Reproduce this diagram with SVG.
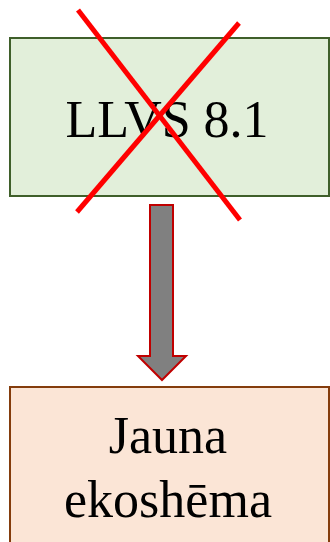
<svg xmlns="http://www.w3.org/2000/svg" width="330" height="542" viewBox="0 0 330 542">
<style>
text{font-family:"Liberation Serif","Times New Roman",serif;font-size:52px;fill:#000;text-anchor:middle}
.cross{stroke:#ff0000;stroke-width:5;stroke-linecap:butt}
</style>
<rect width="330" height="542" fill="#fff"/>
<g id="node-llvs">
<rect x="10" y="38" width="319" height="158" fill="#e2efda" stroke="#3f5f2a" stroke-width="2"/>
<text x="167" y="137">LLVS 8.1</text>
</g>
<g id="node-jauna">
<rect x="10" y="387" width="319" height="170" fill="#fbe5d6" stroke="#843c0c" stroke-width="2"/>
<text x="168" y="453">Jauna</text>
<text x="168" y="517">ekoshēma</text>
</g>
<g id="cross">
<line class="cross" x1="78" y1="10" x2="240" y2="220"/>
<line class="cross" x1="77" y1="212" x2="239" y2="23"/>
</g>
<g id="connectors">
<path d="M150,205 H173 V356 H186 L162,380 L138,356 H150 Z" fill="#808080" stroke="#c00000" stroke-width="2"/>
</g>
</svg>
